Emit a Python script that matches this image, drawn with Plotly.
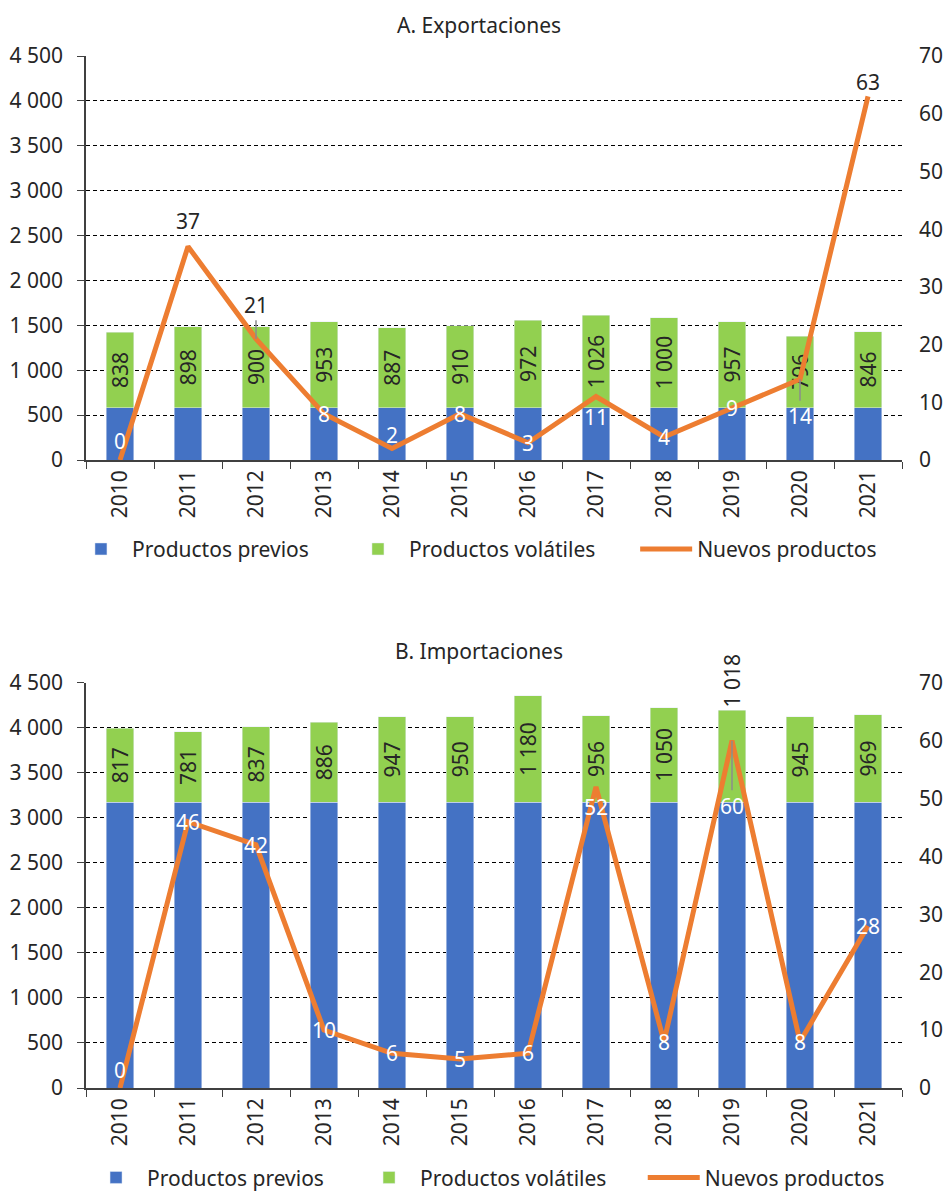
import plotly.graph_objects as go

years = ["2010", "2011", "2012", "2013", "2014", "2015", "2016", "2017", "2018", "2019", "2020", "2021"]

exp_previos = [585, 585, 585, 585, 585, 585, 585, 585, 585, 585, 585, 585]
exp_volatiles = [838, 898, 900, 953, 887, 910, 972, 1026, 1000, 957, 796, 846]
exp_nuevos = [0, 37, 21, 8, 2, 8, 3, 11, 4, 9, 14, 63]

imp_previos = [3175, 3175, 3175, 3175, 3175, 3175, 3175, 3175, 3175, 3175, 3175, 3175]
imp_volatiles = [817, 781, 837, 886, 947, 950, 1180, 956, 1050, 1018, 945, 969]
imp_nuevos = [0, 46, 42, 10, 6, 5, 6, 52, 8, 60, 8, 28]

left_ticks = [0, 500, 1000, 1500, 2000, 2500, 3000, 3500, 4000, 4500]
right_ticks = [0, 10, 20, 30, 40, 50, 60, 70]

# label styles (pixel offsets, screen-down positive), colours, leader flags
exp_lab_off = [-19, -25, -34, 0, -13, 0, 0, 20, 0, 0, 37, -14]
exp_lab_col = ["white", "#262626", "#262626", "white", "white", "white", "white", "white", "white", "white", "white", "#262626"]
exp_lab_leader = [False, False, True, False, False, False, False, False, False, False, True, False]
imp_lab_off = [-18, 0, 0, 0, 0, 0, 0, 20, 0, 65, 0, 0]
imp_lab_col = ["white"] * 12
imp_lab_leader = [False, False, False, False, False, False, False, False, False, True, False, False]
imp_vol_pos = ["inside", "inside", "inside", "inside", "inside", "inside", "inside", "inside", "inside", "outside", "inside", "inside"]

BLUE = "#4472C4"
GREEN = "#92D050"
ORANGE = "#ED7D31"
TXT = "#262626"
AXC = "#404040"
FONT = "Noto Sans"
FS = 21


def fmt(v):
    return f"{v:,}".replace(",", "\u00a0")


fig = go.Figure()

# ---------- A. Exportaciones ----------
fig.add_trace(go.Bar(x=years, y=exp_previos, name="Productos previos", marker_color=BLUE,
                     xaxis="x", yaxis="y", legend="legend", hoverinfo="skip"))
fig.add_trace(go.Bar(x=years, y=exp_volatiles, name="Productos volátiles", marker_color=GREEN,
                     text=[fmt(v) for v in exp_volatiles], textposition="inside", textangle=-90,
                     insidetextanchor="middle", textfont=dict(color=TXT, size=FS, family=FONT),
                     xaxis="x", yaxis="y", legend="legend", hoverinfo="skip"))
fig.add_trace(go.Scatter(x=years, y=exp_nuevos, name="Nuevos productos", mode="lines",
                         line=dict(color=ORANGE, width=5), xaxis="x", yaxis="y2",
                         legend="legend3", hoverinfo="skip"))

# ---------- B. Importaciones ----------
fig.add_trace(go.Bar(x=years, y=imp_previos, name="Productos previos", marker_color=BLUE,
                     xaxis="x2", yaxis="y3", legend="legend2", hoverinfo="skip"))
fig.add_trace(go.Bar(x=years, y=imp_volatiles, name="Productos volátiles", marker_color=GREEN,
                     text=[fmt(v) for v in imp_volatiles], textposition=imp_vol_pos, textangle=-90,
                     insidetextanchor="middle", textfont=dict(color=TXT, size=FS, family=FONT),
                     xaxis="x2", yaxis="y3", legend="legend2", hoverinfo="skip", cliponaxis=False))
fig.add_trace(go.Scatter(x=years, y=imp_nuevos, name="Nuevos productos", mode="lines",
                         line=dict(color=ORANGE, width=5), xaxis="x2", yaxis="y4",
                         legend="legend4", hoverinfo="skip"))

annotations = []


def add_labels(vals, offs, cols, leaders, xref, yref):
    # category index positions on the category axis
    for i, (v, o, c, ld) in enumerate(zip(vals, offs, cols, leaders)):
        if ld:
            annotations.append(dict(x=i, y=v, xref=xref, yref=yref, text=str(v), showarrow=True,
                                    ax=0, ay=o, arrowhead=0, arrowwidth=1.5, arrowcolor="#8c8c8c",
                                    font=dict(color=c, size=FS, family=FONT)))
        else:
            annotations.append(dict(x=i, y=v, xref=xref, yref=yref, text=str(v), showarrow=False,
                                    yshift=-o, font=dict(color=c, size=FS, family=FONT)))


add_labels(exp_nuevos, exp_lab_off, exp_lab_col, exp_lab_leader, "x", "y2")
add_labels(imp_nuevos, imp_lab_off, imp_lab_col, imp_lab_leader, "x2", "y4")

annotations.append(dict(text="A. Exportaciones", xref="paper", yref="paper", x=0.482, y=1.0305,
                        xanchor="center", yanchor="middle", showarrow=False,
                        font=dict(size=FS, color=TXT, family=FONT)))
annotations.append(dict(text="B. Importaciones", xref="paper", yref="paper", x=0.482, y=0.4239,
                        xanchor="center", yanchor="middle", showarrow=False,
                        font=dict(size=FS, color=TXT, family=FONT)))

top_dom = [0.6085, 1.0]
bot_dom = [0.0, 0.3927]

xcommon = dict(type="category", categoryorder="array", categoryarray=years,
               range=[-0.5, len(years) - 0.5], autorange=False, automargin=False,
               tickangle=-90, ticks="outside", tickson="boundaries", ticklen=7,
               tickcolor=AXC, showline=True, linecolor=AXC, linewidth=1.5,
               showgrid=False, tickfont=dict(size=FS, color=TXT, family=FONT))
yleft = dict(range=[0, 4500], tickvals=left_ticks, tickformat=",", ticks="outside", ticklen=7,
             tickcolor=AXC, showline=True, linecolor=AXC, linewidth=1.5, automargin=False,
             showgrid=True, gridcolor="#000000", gridwidth=1, griddash="4px,3px",
             zeroline=False, tickfont=dict(size=FS, color=TXT, family=FONT), ticklabelstandoff=10)
yright = dict(range=[0, 70], tickvals=right_ticks, side="right", showgrid=False, showline=False,
              ticks="", zeroline=False, automargin=False,
              tickfont=dict(size=FS, color=TXT, family=FONT), ticklabelstandoff=16)

legend_common = dict(orientation="h", xanchor="left", yanchor="middle", xref="container",
                     font=dict(size=FS, color=TXT, family=FONT), traceorder="normal",
                     itemwidth=52, entrywidthmode="pixels")

fig.update_layout(
    width=948, height=1194,
    margin=dict(l=86, r=46, t=56, b=106, autoexpand=False),
    paper_bgcolor="white", plot_bgcolor="white",
    barmode="stack", bargap=0.6,
    separators=". ",
    uniformtext=dict(minsize=FS, mode="show"),
    font=dict(family=FONT, color=TXT, size=FS),
    xaxis=dict(xcommon, domain=[0, 1], anchor="y"),
    yaxis=dict(yleft, domain=top_dom, anchor="x"),
    yaxis2=dict(yright, domain=top_dom, overlaying="y", anchor="x"),
    xaxis2=dict(xcommon, domain=[0, 1], anchor="y3"),
    yaxis3=dict(yleft, domain=bot_dom, anchor="x2"),
    yaxis4=dict(yright, domain=bot_dom, overlaying="y3", anchor="x2"),
    legend=dict(legend_common, x=0.0738, y=0.522, entrywidth=210),
    legend3=dict(legend_common, x=0.670, y=0.522, entrywidth=180),
    legend2=dict(legend_common, x=0.0897, y=-0.087, entrywidth=206),
    legend4=dict(legend_common, x=0.678, y=-0.087, entrywidth=180),
    annotations=annotations,
    showlegend=True,
)

fig.write_html("out.html", config={"displayModeBar": False},
               post_script="document.body.style.margin='0px';")
